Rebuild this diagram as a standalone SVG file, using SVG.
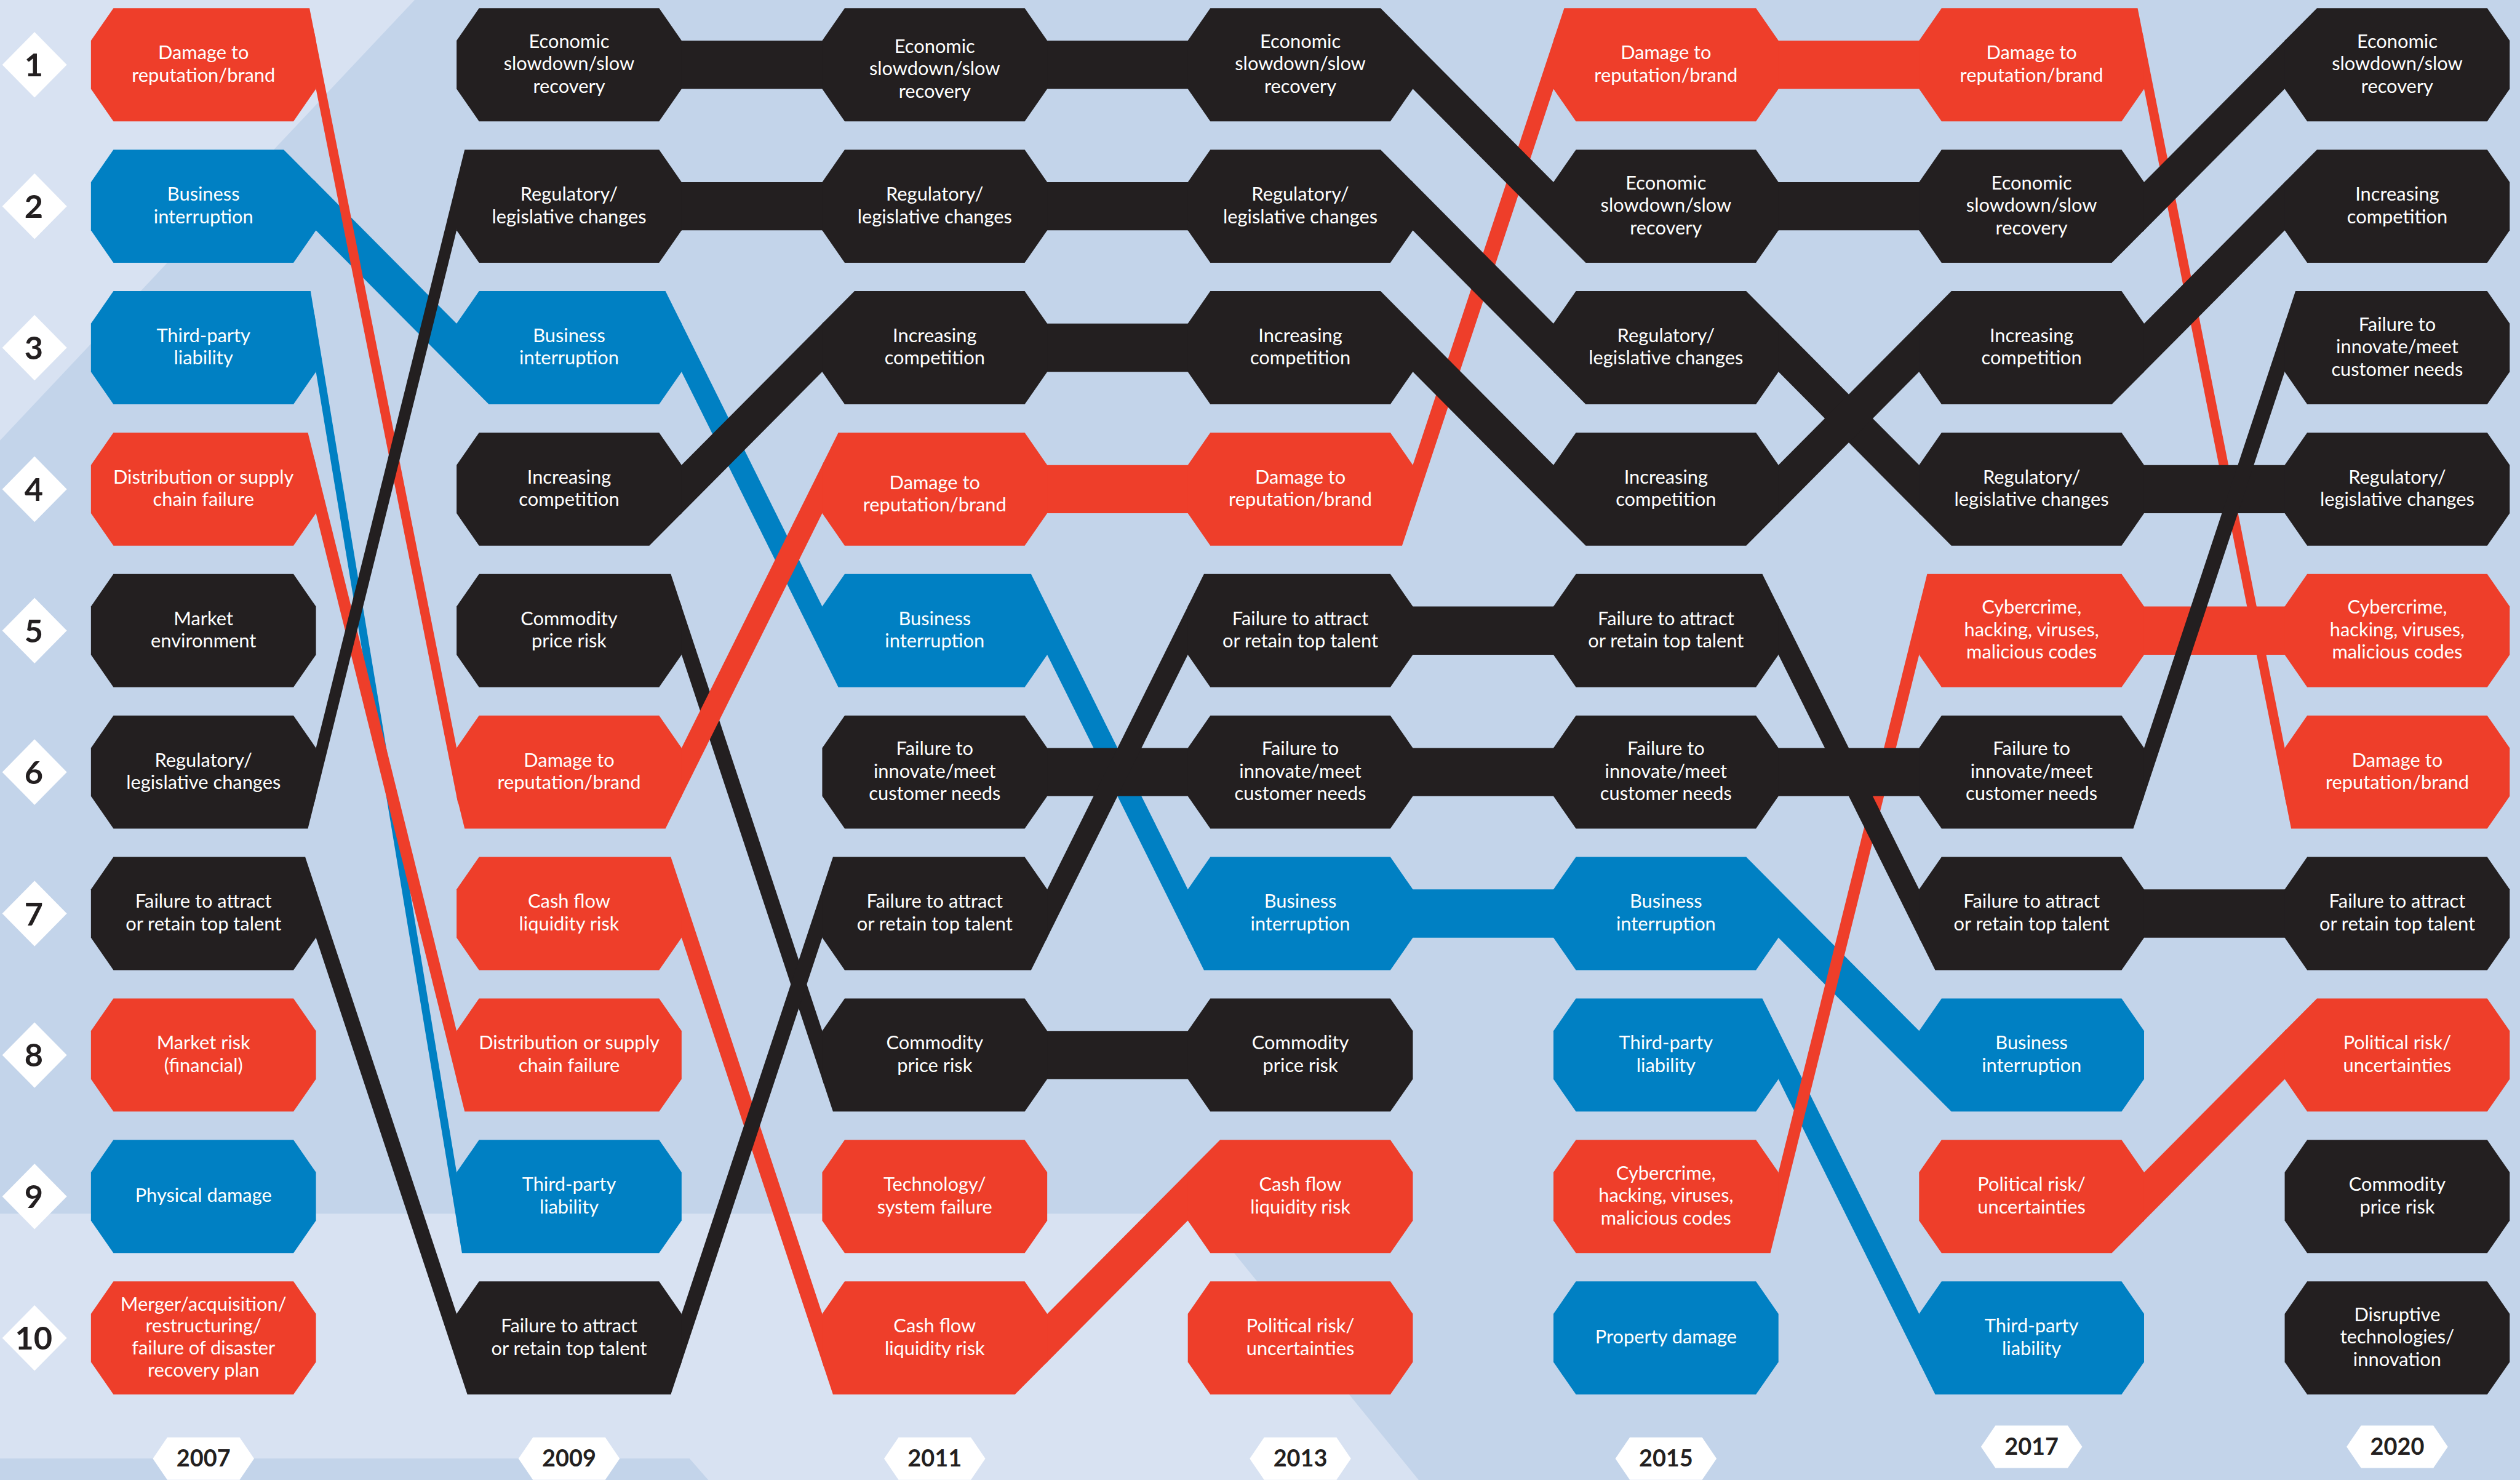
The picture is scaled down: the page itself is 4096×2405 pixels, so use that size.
<svg xmlns="http://www.w3.org/2000/svg" width="4096" height="2405" viewBox="0 0 4096 2405">
<style>
.R{fill:#EE3E2A}.B{fill:#0080C3}.K{fill:#231F20}
.bgd{fill:#C3D4EA}.bgl{fill:#D8E2F2}
.t{font-family:Lato,"Noto Sans","Liberation Sans",sans-serif;font-size:11.8px;fill:#FFFFFF;text-anchor:middle}
.dia{fill:#FFFFFF}
.num{font-family:Lato,"Noto Sans","Liberation Sans",sans-serif;font-size:20px;font-weight:700;fill:#231F20;text-anchor:middle}
.yr{font-family:Lato,"Noto Sans","Liberation Sans",sans-serif;font-size:14.5px;font-weight:700;fill:#231F20;text-anchor:middle}
</style>
<g transform="scale(2.612245)">
<g id="background">
<rect class="bgd" x="0" y="0" width="1568" height="921"/>
<polygon class="bgl" points="0,0 258,0 0,274"/>
<polygon class="bgl" points="0,755 748,755 883,921 441,921 429,907.3 0,907.3"/>
</g>
<g id="connectors">
<polygon class="B" points="195.6,112.29 285.1,202.31 285.1,232.31 195.6,142.29"/>
<polygon class="B" points="195.6,195.27 285.1,735.33 285.1,765.33 195.6,225.27"/>
<polygon class="R" points="195.6,20.27 285.1,470.33 285.1,500.33 195.6,50.27"/>
<polygon class="R" points="195.6,285.28 285.1,645.32 285.1,675.32 195.6,315.28"/>
<polygon class="K" points="195.6,469.32 285.1,109.28 285.1,139.28 195.6,499.32"/>
<polygon class="K" points="195.6,550.28 285.1,820.32 285.1,850.32 195.6,580.28"/>

<polygon class="B" points="423.1,199.29 512.6,379.31 512.6,409.31 423.1,229.29"/>
<polygon class="R" points="423.1,550.28 512.6,820.32 512.6,850.32 423.1,580.28"/>
<polygon class="K" points="423.1,25.3 512.6,25.3 512.6,55.3 423.1,55.3"/>
<polygon class="K" points="423.1,113.3 512.6,113.3 512.6,143.3 423.1,143.3"/>
<polygon class="K" points="423.1,290.31 512.6,200.29 512.6,230.29 423.1,320.31"/>
<polygon class="K" points="423.1,374.28 512.6,644.32 512.6,674.32 423.1,404.28"/>
<polygon class="K" points="423.1,820.32 512.6,550.28 512.6,580.28 423.1,850.32"/>
<polygon class="R" points="423.1,467.31 512.6,287.29 512.6,317.29 423.1,497.31"/>

<polygon class="B" points="650.6,375.29 740.1,555.31 740.1,585.31 650.6,405.29"/>
<polygon class="R" points="650.6,289.3 740.1,289.3 740.1,319.3 650.6,319.3"/>
<polygon class="R" points="650.6,818.31 740.1,728.29 740.1,758.29 650.6,848.31"/>
<polygon class="K" points="650.6,25.3 740.1,25.3 740.1,55.3 650.6,55.3"/>
<polygon class="K" points="650.6,113.3 740.1,113.3 740.1,143.3 650.6,143.3"/>
<polygon class="K" points="650.6,201.3 740.1,201.3 740.1,231.3 650.6,231.3"/>
<polygon class="K" points="650.6,465.3 740.1,465.3 740.1,495.3 650.6,495.3"/>
<polygon class="K" points="650.6,641.3 740.1,641.3 740.1,671.3 650.6,671.3"/>
<polygon class="K" points="650.6,555.31 740.1,375.29 740.1,405.29 650.6,585.31"/>

<polygon class="B" points="878.1,553.3 967.6,553.3 967.6,583.3 878.1,583.3"/>
<polygon class="R" points="878.1,292.32 967.6,22.28 967.6,52.28 878.1,322.32"/>
<polygon class="K" points="878.1,24.29 967.6,114.31 967.6,144.31 878.1,54.29"/>
<polygon class="K" points="878.1,112.29 967.6,202.31 967.6,232.31 878.1,142.29"/>
<polygon class="K" points="878.1,200.29 967.6,290.31 967.6,320.31 878.1,230.29"/>
<polygon class="K" points="878.1,377.3 967.6,377.3 967.6,407.3 878.1,407.3"/>
<polygon class="K" points="878.1,465.3 967.6,465.3 967.6,495.3 878.1,495.3"/>

<polygon class="B" points="1105.6,552.29 1195.1,642.31 1195.1,672.31 1105.6,582.29"/>
<polygon class="B" points="1105.6,639.29 1195.1,819.31 1195.1,849.31 1105.6,669.29"/>
<polygon class="R" points="1105.6,25.3 1195.1,25.3 1195.1,55.3 1105.6,55.3"/>
<polygon class="R" points="1105.6,733.32 1195.1,373.28 1195.1,403.28 1105.6,763.32"/>
<polygon class="K" points="1105.6,113.3 1195.1,113.3 1195.1,143.3 1105.6,143.3"/>
<polygon class="K" points="1105.6,200.29 1195.1,290.31 1195.1,320.31 1105.6,230.29"/>
<polygon class="K" points="1105.6,290.31 1195.1,200.29 1195.1,230.29 1105.6,320.31"/>
<polygon class="K" points="1105.6,375.29 1195.1,555.31 1195.1,585.31 1105.6,405.29"/>
<polygon class="K" points="1105.6,465.3 1195.1,465.3 1195.1,495.3 1105.6,495.3"/>

<polygon class="R" points="1333.1,20.27 1422.6,470.33 1422.6,500.33 1333.1,50.27"/>
<polygon class="R" points="1333.1,377.3 1422.6,377.3 1422.6,407.3 1333.1,407.3"/>
<polygon class="R" points="1333.1,730.31 1422.6,640.29 1422.6,670.29 1333.1,760.31"/>
<polygon class="K" points="1333.1,114.31 1422.6,24.29 1422.6,54.29 1333.1,144.31"/>
<polygon class="K" points="1333.1,202.31 1422.6,112.29 1422.6,142.29 1333.1,232.31"/>
<polygon class="K" points="1333.1,289.3 1422.6,289.3 1422.6,319.3 1333.1,319.3"/>
<polygon class="K" points="1333.1,468.32 1422.6,198.28 1422.6,228.28 1333.1,498.32"/>
<polygon class="K" points="1333.1,553.3 1422.6,553.3 1422.6,583.3 1333.1,583.3"/>
</g>

<!-- 2007 -->
<g id="n2007-1"><polygon class="R" points="70.6,5.1 192.58,5.1 196.6,25.3 196.6,55.3 182.6,75.5 70.6,75.5 56.6,55.3 56.6,25.3"/><text class="t"><tspan x="126.6" y="36.8">Damage to</tspan><tspan x="126.6" y="50.8">reputation/brand</tspan></text></g>
<g id="n2007-2"><polygon class="B" points="70.6,93.1 176.51,93.1 196.6,113.3 196.6,143.3 182.6,163.5 70.6,163.5 56.6,143.3 56.6,113.3"/><text class="t"><tspan x="126.6" y="124.8">Business</tspan><tspan x="126.6" y="138.8">interruption</tspan></text></g>
<g id="n2007-3"><polygon class="B" points="70.6,181.1 193.25,181.1 196.6,201.3 196.6,231.3 182.6,251.5 70.6,251.5 56.6,231.3 56.6,201.3"/><text class="t"><tspan x="126.6" y="212.8">Third-party</tspan><tspan x="126.6" y="226.8">liability</tspan></text></g>
<g id="n2007-4"><polygon class="R" points="70.6,269.1 191.58,269.1 196.6,289.3 196.6,319.3 182.6,339.5 70.6,339.5 56.6,319.3 56.6,289.3"/><text class="t"><tspan x="126.6" y="300.8">Distribution or supply</tspan><tspan x="126.6" y="314.8">chain failure</tspan></text></g>
<g id="n2007-5"><polygon class="K" points="70.6,357.1 182.6,357.1 196.6,377.3 196.6,407.3 182.6,427.5 70.6,427.5 56.6,407.3 56.6,377.3"/><text class="t"><tspan x="126.6" y="388.8">Market</tspan><tspan x="126.6" y="402.8">environment</tspan></text></g>
<g id="n2007-6"><polygon class="K" points="70.6,445.1 182.6,445.1 196.6,465.3 196.6,495.3 191.58,515.5 70.6,515.5 56.6,495.3 56.6,465.3"/><text class="t"><tspan x="126.6" y="476.8">Regulatory/</tspan><tspan x="126.6" y="490.8">legislative changes</tspan></text></g>
<g id="n2007-7"><polygon class="K" points="70.6,533.1 189.9,533.1 196.6,553.3 196.6,583.3 182.6,603.5 70.6,603.5 56.6,583.3 56.6,553.3"/><text class="t"><tspan x="126.6" y="564.8">Failure to attract</tspan><tspan x="126.6" y="578.8">or retain top talent</tspan></text></g>
<g id="n2007-8"><polygon class="R" points="70.6,621.1 182.6,621.1 196.6,641.3 196.6,671.3 182.6,691.5 70.6,691.5 56.6,671.3 56.6,641.3"/><text class="t"><tspan x="126.6" y="652.8">Market risk</tspan><tspan x="126.6" y="666.8">(financial)</tspan></text></g>
<g id="n2007-9"><polygon class="B" points="70.6,709.1 182.6,709.1 196.6,729.3 196.6,759.3 182.6,779.5 70.6,779.5 56.6,759.3 56.6,729.3"/><text class="t"><tspan x="126.6" y="747.8">Physical damage</tspan></text></g>
<g id="n2007-10"><polygon class="R" points="70.6,797.1 182.6,797.1 196.6,817.3 196.6,847.3 182.6,867.5 70.6,867.5 56.6,847.3 56.6,817.3"/><text class="t"><tspan x="126.6" y="815.25">Merger/acquisition/</tspan><tspan x="126.6" y="828.95">restructuring/</tspan><tspan x="126.6" y="842.65">failure of disaster</tspan><tspan x="126.6" y="856.35">recovery plan</tspan></text></g>

<!-- 2009 -->
<g id="n2009-1"><polygon class="K" points="298.1,5.1 410.1,5.1 424.1,25.3 424.1,55.3 410.1,75.5 298.1,75.5 284.1,55.3 284.1,25.3"/><text class="t"><tspan x="354.1" y="29.8">Economic</tspan><tspan x="354.1" y="43.8">slowdown/slow</tspan><tspan x="354.1" y="57.8">recovery</tspan></text></g>
<g id="n2009-2"><polygon class="K" points="289.12,93.1 410.1,93.1 424.1,113.3 424.1,143.3 410.1,163.5 298.1,163.5 284.1,143.3 284.1,113.3"/><text class="t"><tspan x="354.1" y="124.8">Regulatory/</tspan><tspan x="354.1" y="138.8">legislative changes</tspan></text></g>
<g id="n2009-3"><polygon class="B" points="298.1,181.1 414.06,181.1 424.1,201.3 424.1,231.3 410.1,251.5 304.19,251.5 284.1,231.3 284.1,201.3"/><text class="t"><tspan x="354.1" y="212.8">Business</tspan><tspan x="354.1" y="226.8">interruption</tspan></text></g>
<g id="n2009-4"><polygon class="K" points="298.1,269.1 410.1,269.1 424.1,289.3 424.1,319.3 404.01,339.5 298.1,339.5 284.1,319.3 284.1,289.3"/><text class="t"><tspan x="354.1" y="300.8">Increasing</tspan><tspan x="354.1" y="314.8">competition</tspan></text></g>
<g id="n2009-5"><polygon class="K" points="298.1,357.1 417.4,357.1 424.1,377.3 424.1,407.3 410.1,427.5 298.1,427.5 284.1,407.3 284.1,377.3"/><text class="t"><tspan x="354.1" y="388.8">Commodity</tspan><tspan x="354.1" y="402.8">price risk</tspan></text></g>
<g id="n2009-6"><polygon class="R" points="298.1,445.1 410.1,445.1 424.1,465.3 424.1,495.3 414.06,515.5 289.12,515.5 284.1,495.3 284.1,465.3"/><text class="t"><tspan x="354.1" y="476.8">Damage to</tspan><tspan x="354.1" y="490.8">reputation/brand</tspan></text></g>
<g id="n2009-7"><polygon class="R" points="298.1,533.1 417.4,533.1 424.1,553.3 424.1,583.3 410.1,603.5 298.1,603.5 284.1,583.3 284.1,553.3"/><text class="t"><tspan x="354.1" y="564.8">Cash flow</tspan><tspan x="354.1" y="578.8">liquidity risk</tspan></text></g>
<g id="n2009-8"><polygon class="R" points="298.1,621.1 410.1,621.1 424.1,641.3 424.1,671.3 410.1,691.5 289.12,691.5 284.1,671.3 284.1,641.3"/><text class="t"><tspan x="354.1" y="652.8">Distribution or supply</tspan><tspan x="354.1" y="666.8">chain failure</tspan></text></g>
<g id="n2009-9"><polygon class="B" points="298.1,709.1 410.1,709.1 424.1,729.3 424.1,759.3 410.1,779.5 287.45,779.5 284.1,759.3 284.1,729.3"/><text class="t"><tspan x="354.1" y="740.8">Third-party</tspan><tspan x="354.1" y="754.8">liability</tspan></text></g>
<g id="n2009-10"><polygon class="K" points="298.1,797.1 410.1,797.1 424.1,817.3 424.1,847.3 417.4,867.5 290.8,867.5 284.1,847.3 284.1,817.3"/><text class="t"><tspan x="354.1" y="828.8">Failure to attract</tspan><tspan x="354.1" y="842.8">or retain top talent</tspan></text></g>

<!-- 2011 -->
<g id="n2011-1"><polygon class="K" points="525.6,5.1 637.6,5.1 651.6,25.3 651.6,55.3 637.6,75.5 525.6,75.5 511.6,55.3 511.6,25.3"/><text class="t"><tspan x="581.6" y="32.8">Economic</tspan><tspan x="581.6" y="46.8">slowdown/slow</tspan><tspan x="581.6" y="60.8">recovery</tspan></text></g>
<g id="n2011-2"><polygon class="K" points="525.6,93.1 637.6,93.1 651.6,113.3 651.6,143.3 637.6,163.5 525.6,163.5 511.6,143.3 511.6,113.3"/><text class="t"><tspan x="581.6" y="124.8">Regulatory/</tspan><tspan x="581.6" y="138.8">legislative changes</tspan></text></g>
<g id="n2011-3"><polygon class="K" points="531.69,181.1 637.6,181.1 651.6,201.3 651.6,231.3 637.6,251.5 525.6,251.5 511.6,231.3 511.6,201.3"/><text class="t"><tspan x="581.6" y="212.8">Increasing</tspan><tspan x="581.6" y="226.8">competition</tspan></text></g>
<g id="n2011-4"><polygon class="R" points="521.64,269.1 637.6,269.1 651.6,289.3 651.6,319.3 637.6,339.5 525.6,339.5 511.6,319.3 511.6,289.3"/><text class="t"><tspan x="581.6" y="304.3">Damage to</tspan><tspan x="581.6" y="318.3">reputation/brand</tspan></text></g>
<g id="n2011-5"><polygon class="B" points="525.6,357.1 641.56,357.1 651.6,377.3 651.6,407.3 637.6,427.5 521.64,427.5 511.6,407.3 511.6,377.3"/><text class="t"><tspan x="581.6" y="388.8">Business</tspan><tspan x="581.6" y="402.8">interruption</tspan></text></g>
<g id="n2011-6"><polygon class="K" points="525.6,445.1 637.6,445.1 651.6,465.3 651.6,495.3 637.6,515.5 525.6,515.5 511.6,495.3 511.6,465.3"/><text class="t"><tspan x="581.6" y="469.8">Failure to</tspan><tspan x="581.6" y="483.8">innovate/meet</tspan><tspan x="581.6" y="497.8">customer needs</tspan></text></g>
<g id="n2011-7"><polygon class="K" points="518.3,533.1 637.6,533.1 651.6,553.3 651.6,583.3 641.56,603.5 525.6,603.5 511.6,583.3 511.6,553.3"/><text class="t"><tspan x="581.6" y="564.8">Failure to attract</tspan><tspan x="581.6" y="578.8">or retain top talent</tspan></text></g>
<g id="n2011-8"><polygon class="K" points="525.6,621.1 637.6,621.1 651.6,641.3 651.6,671.3 637.6,691.5 518.3,691.5 511.6,671.3 511.6,641.3"/><text class="t"><tspan x="581.6" y="652.8">Commodity</tspan><tspan x="581.6" y="666.8">price risk</tspan></text></g>
<g id="n2011-9"><polygon class="R" points="525.6,709.1 637.6,709.1 651.6,729.3 651.6,759.3 637.6,779.5 525.6,779.5 511.6,759.3 511.6,729.3"/><text class="t"><tspan x="581.6" y="740.8">Technology/</tspan><tspan x="581.6" y="754.8">system failure</tspan></text></g>
<g id="n2011-10"><polygon class="R" points="525.6,797.1 637.6,797.1 651.6,817.3 651.6,847.3 631.51,867.5 518.3,867.5 511.6,847.3 511.6,817.3"/><text class="t"><tspan x="581.6" y="828.8">Cash flow</tspan><tspan x="581.6" y="842.8">liquidity risk</tspan></text></g>

<!-- 2013 -->
<g id="n2013-1"><polygon class="K" points="753.1,5.1 859.01,5.1 879.1,25.3 879.1,55.3 865.1,75.5 753.1,75.5 739.1,55.3 739.1,25.3"/><text class="t"><tspan x="809.1" y="29.8">Economic</tspan><tspan x="809.1" y="43.8">slowdown/slow</tspan><tspan x="809.1" y="57.8">recovery</tspan></text></g>
<g id="n2013-2"><polygon class="K" points="753.1,93.1 859.01,93.1 879.1,113.3 879.1,143.3 865.1,163.5 753.1,163.5 739.1,143.3 739.1,113.3"/><text class="t"><tspan x="809.1" y="124.8">Regulatory/</tspan><tspan x="809.1" y="138.8">legislative changes</tspan></text></g>
<g id="n2013-3"><polygon class="K" points="753.1,181.1 859.01,181.1 879.1,201.3 879.1,231.3 865.1,251.5 753.1,251.5 739.1,231.3 739.1,201.3"/><text class="t"><tspan x="809.1" y="212.8">Increasing</tspan><tspan x="809.1" y="226.8">competition</tspan></text></g>
<g id="n2013-4"><polygon class="R" points="753.1,269.1 865.1,269.1 879.1,289.3 879.1,319.3 872.4,339.5 753.1,339.5 739.1,319.3 739.1,289.3"/><text class="t"><tspan x="809.1" y="300.8">Damage to</tspan><tspan x="809.1" y="314.8">reputation/brand</tspan></text></g>
<g id="n2013-5"><polygon class="K" points="749.14,357.1 865.1,357.1 879.1,377.3 879.1,407.3 865.1,427.5 753.1,427.5 739.1,407.3 739.1,377.3"/><text class="t"><tspan x="809.1" y="388.8">Failure to attract</tspan><tspan x="809.1" y="402.8">or retain top talent</tspan></text></g>
<g id="n2013-6"><polygon class="K" points="753.1,445.1 865.1,445.1 879.1,465.3 879.1,495.3 865.1,515.5 753.1,515.5 739.1,495.3 739.1,465.3"/><text class="t"><tspan x="809.1" y="469.8">Failure to</tspan><tspan x="809.1" y="483.8">innovate/meet</tspan><tspan x="809.1" y="497.8">customer needs</tspan></text></g>
<g id="n2013-7"><polygon class="B" points="753.1,533.1 865.1,533.1 879.1,553.3 879.1,583.3 865.1,603.5 749.14,603.5 739.1,583.3 739.1,553.3"/><text class="t"><tspan x="809.1" y="564.8">Business</tspan><tspan x="809.1" y="578.8">interruption</tspan></text></g>
<g id="n2013-8"><polygon class="K" points="753.1,621.1 865.1,621.1 879.1,641.3 879.1,671.3 865.1,691.5 753.1,691.5 739.1,671.3 739.1,641.3"/><text class="t"><tspan x="809.1" y="652.8">Commodity</tspan><tspan x="809.1" y="666.8">price risk</tspan></text></g>
<g id="n2013-9"><polygon class="R" points="759.19,709.1 865.1,709.1 879.1,729.3 879.1,759.3 865.1,779.5 753.1,779.5 739.1,759.3 739.1,729.3"/><text class="t"><tspan x="809.1" y="740.8">Cash flow</tspan><tspan x="809.1" y="754.8">liquidity risk</tspan></text></g>
<g id="n2013-10"><polygon class="R" points="753.1,797.1 865.1,797.1 879.1,817.3 879.1,847.3 865.1,867.5 753.1,867.5 739.1,847.3 739.1,817.3"/><text class="t"><tspan x="809.1" y="828.8">Political risk/</tspan><tspan x="809.1" y="842.8">uncertainties</tspan></text></g>

<!-- 2015 -->
<g id="n2015-1"><polygon class="R" points="973.3,5.1 1092.6,5.1 1106.6,25.3 1106.6,55.3 1092.6,75.5 980.6,75.5 966.6,55.3 966.6,25.3"/><text class="t"><tspan x="1036.6" y="36.8">Damage to</tspan><tspan x="1036.6" y="50.8">reputation/brand</tspan></text></g>
<g id="n2015-2"><polygon class="K" points="980.6,93.1 1092.6,93.1 1106.6,113.3 1106.6,143.3 1092.6,163.5 986.69,163.5 966.6,143.3 966.6,113.3"/><text class="t"><tspan x="1036.6" y="117.8">Economic</tspan><tspan x="1036.6" y="131.8">slowdown/slow</tspan><tspan x="1036.6" y="145.8">recovery</tspan></text></g>
<g id="n2015-3"><polygon class="K" points="980.6,181.1 1086.51,181.1 1106.6,201.3 1106.6,231.3 1092.6,251.5 986.69,251.5 966.6,231.3 966.6,201.3"/><text class="t"><tspan x="1036.6" y="212.8">Regulatory/</tspan><tspan x="1036.6" y="226.8">legislative changes</tspan></text></g>
<g id="n2015-4"><polygon class="K" points="980.6,269.1 1092.6,269.1 1106.6,289.3 1106.6,319.3 1086.51,339.5 986.69,339.5 966.6,319.3 966.6,289.3"/><text class="t"><tspan x="1036.6" y="300.8">Increasing</tspan><tspan x="1036.6" y="314.8">competition</tspan></text></g>
<g id="n2015-5"><polygon class="K" points="980.6,357.1 1096.56,357.1 1106.6,377.3 1106.6,407.3 1092.6,427.5 980.6,427.5 966.6,407.3 966.6,377.3"/><text class="t"><tspan x="1036.6" y="388.8">Failure to attract</tspan><tspan x="1036.6" y="402.8">or retain top talent</tspan></text></g>
<g id="n2015-6"><polygon class="K" points="980.6,445.1 1092.6,445.1 1106.6,465.3 1106.6,495.3 1092.6,515.5 980.6,515.5 966.6,495.3 966.6,465.3"/><text class="t"><tspan x="1036.6" y="469.8">Failure to</tspan><tspan x="1036.6" y="483.8">innovate/meet</tspan><tspan x="1036.6" y="497.8">customer needs</tspan></text></g>
<g id="n2015-7"><polygon class="B" points="980.6,533.1 1086.51,533.1 1106.6,553.3 1106.6,583.3 1092.6,603.5 980.6,603.5 966.6,583.3 966.6,553.3"/><text class="t"><tspan x="1036.6" y="564.8">Business</tspan><tspan x="1036.6" y="578.8">interruption</tspan></text></g>
<g id="n2015-8"><polygon class="B" points="980.6,621.1 1096.56,621.1 1106.6,641.3 1106.6,671.3 1092.6,691.5 980.6,691.5 966.6,671.3 966.6,641.3"/><text class="t"><tspan x="1036.6" y="652.8">Third-party</tspan><tspan x="1036.6" y="666.8">liability</tspan></text></g>
<g id="n2015-9"><polygon class="R" points="980.6,709.1 1092.6,709.1 1106.6,729.3 1106.6,759.3 1101.58,779.5 980.6,779.5 966.6,759.3 966.6,729.3"/><text class="t"><tspan x="1036.6" y="733.8">Cybercrime,</tspan><tspan x="1036.6" y="747.8">hacking, viruses,</tspan><tspan x="1036.6" y="761.8">malicious codes</tspan></text></g>
<g id="n2015-10"><polygon class="B" points="980.6,797.1 1092.6,797.1 1106.6,817.3 1106.6,847.3 1092.6,867.5 980.6,867.5 966.6,847.3 966.6,817.3"/><text class="t"><tspan x="1036.6" y="835.8">Property damage</tspan></text></g>

<!-- 2017 -->
<g id="n2017-1"><polygon class="R" points="1208.1,5.1 1330.08,5.1 1334.1,25.3 1334.1,55.3 1320.1,75.5 1208.1,75.5 1194.1,55.3 1194.1,25.3"/><text class="t"><tspan x="1264.1" y="36.8">Damage to</tspan><tspan x="1264.1" y="50.8">reputation/brand</tspan></text></g>
<g id="n2017-2"><polygon class="K" points="1208.1,93.1 1320.1,93.1 1334.1,113.3 1334.1,143.3 1314.01,163.5 1208.1,163.5 1194.1,143.3 1194.1,113.3"/><text class="t"><tspan x="1264.1" y="117.8">Economic</tspan><tspan x="1264.1" y="131.8">slowdown/slow</tspan><tspan x="1264.1" y="145.8">recovery</tspan></text></g>
<g id="n2017-3"><polygon class="K" points="1214.19,181.1 1320.1,181.1 1334.1,201.3 1334.1,231.3 1314.01,251.5 1208.1,251.5 1194.1,231.3 1194.1,201.3"/><text class="t"><tspan x="1264.1" y="212.8">Increasing</tspan><tspan x="1264.1" y="226.8">competition</tspan></text></g>
<g id="n2017-4"><polygon class="K" points="1208.1,269.1 1320.1,269.1 1334.1,289.3 1334.1,319.3 1320.1,339.5 1214.19,339.5 1194.1,319.3 1194.1,289.3"/><text class="t"><tspan x="1264.1" y="300.8">Regulatory/</tspan><tspan x="1264.1" y="314.8">legislative changes</tspan></text></g>
<g id="n2017-5"><polygon class="R" points="1199.12,357.1 1320.1,357.1 1334.1,377.3 1334.1,407.3 1320.1,427.5 1208.1,427.5 1194.1,407.3 1194.1,377.3"/><text class="t"><tspan x="1264.1" y="381.8">Cybercrime,</tspan><tspan x="1264.1" y="395.8">hacking, viruses,</tspan><tspan x="1264.1" y="409.8">malicious codes</tspan></text></g>
<g id="n2017-6"><polygon class="K" points="1208.1,445.1 1320.1,445.1 1334.1,465.3 1334.1,495.3 1327.4,515.5 1208.1,515.5 1194.1,495.3 1194.1,465.3"/><text class="t"><tspan x="1264.1" y="469.8">Failure to</tspan><tspan x="1264.1" y="483.8">innovate/meet</tspan><tspan x="1264.1" y="497.8">customer needs</tspan></text></g>
<g id="n2017-7"><polygon class="K" points="1208.1,533.1 1320.1,533.1 1334.1,553.3 1334.1,583.3 1320.1,603.5 1204.14,603.5 1194.1,583.3 1194.1,553.3"/><text class="t"><tspan x="1264.1" y="564.8">Failure to attract</tspan><tspan x="1264.1" y="578.8">or retain top talent</tspan></text></g>
<g id="n2017-8"><polygon class="B" points="1208.1,621.1 1320.1,621.1 1334.1,641.3 1334.1,671.3 1320.1,691.5 1214.19,691.5 1194.1,671.3 1194.1,641.3"/><text class="t"><tspan x="1264.1" y="652.8">Business</tspan><tspan x="1264.1" y="666.8">interruption</tspan></text></g>
<g id="n2017-9"><polygon class="R" points="1208.1,709.1 1320.1,709.1 1334.1,729.3 1334.1,759.3 1314.01,779.5 1208.1,779.5 1194.1,759.3 1194.1,729.3"/><text class="t"><tspan x="1264.1" y="740.8">Political risk/</tspan><tspan x="1264.1" y="754.8">uncertainties</tspan></text></g>
<g id="n2017-10"><polygon class="B" points="1208.1,797.1 1320.1,797.1 1334.1,817.3 1334.1,847.3 1320.1,867.5 1204.14,867.5 1194.1,847.3 1194.1,817.3"/><text class="t"><tspan x="1264.1" y="828.8">Third-party</tspan><tspan x="1264.1" y="842.8">liability</tspan></text></g>

<!-- 2020 -->
<g id="n2020-1"><polygon class="K" points="1441.69,5.1 1547.6,5.1 1561.6,25.3 1561.6,55.3 1547.6,75.5 1435.6,75.5 1421.6,55.3 1421.6,25.3"/><text class="t"><tspan x="1491.6" y="29.8">Economic</tspan><tspan x="1491.6" y="43.8">slowdown/slow</tspan><tspan x="1491.6" y="57.8">recovery</tspan></text></g>
<g id="n2020-2"><polygon class="K" points="1441.69,93.1 1547.6,93.1 1561.6,113.3 1561.6,143.3 1547.6,163.5 1435.6,163.5 1421.6,143.3 1421.6,113.3"/><text class="t"><tspan x="1491.6" y="124.8">Increasing</tspan><tspan x="1491.6" y="138.8">competition</tspan></text></g>
<g id="n2020-3"><polygon class="K" points="1428.3,181.1 1547.6,181.1 1561.6,201.3 1561.6,231.3 1547.6,251.5 1435.6,251.5 1421.6,231.3 1421.6,201.3"/><text class="t"><tspan x="1491.6" y="205.8">Failure to</tspan><tspan x="1491.6" y="219.8">innovate/meet</tspan><tspan x="1491.6" y="233.8">customer needs</tspan></text></g>
<g id="n2020-4"><polygon class="K" points="1435.6,269.1 1547.6,269.1 1561.6,289.3 1561.6,319.3 1547.6,339.5 1435.6,339.5 1421.6,319.3 1421.6,289.3"/><text class="t"><tspan x="1491.6" y="300.8">Regulatory/</tspan><tspan x="1491.6" y="314.8">legislative changes</tspan></text></g>
<g id="n2020-5"><polygon class="R" points="1435.6,357.1 1547.6,357.1 1561.6,377.3 1561.6,407.3 1547.6,427.5 1435.6,427.5 1421.6,407.3 1421.6,377.3"/><text class="t"><tspan x="1491.6" y="381.8">Cybercrime,</tspan><tspan x="1491.6" y="395.8">hacking, viruses,</tspan><tspan x="1491.6" y="409.8">malicious codes</tspan></text></g>
<g id="n2020-6"><polygon class="R" points="1435.6,445.1 1547.6,445.1 1561.6,465.3 1561.6,495.3 1547.6,515.5 1425.62,515.5 1421.6,495.3 1421.6,465.3"/><text class="t"><tspan x="1491.6" y="476.8">Damage to</tspan><tspan x="1491.6" y="490.8">reputation/brand</tspan></text></g>
<g id="n2020-7"><polygon class="K" points="1435.6,533.1 1547.6,533.1 1561.6,553.3 1561.6,583.3 1547.6,603.5 1435.6,603.5 1421.6,583.3 1421.6,553.3"/><text class="t"><tspan x="1491.6" y="564.8">Failure to attract</tspan><tspan x="1491.6" y="578.8">or retain top talent</tspan></text></g>
<g id="n2020-8"><polygon class="R" points="1441.69,621.1 1547.6,621.1 1561.6,641.3 1561.6,671.3 1547.6,691.5 1435.6,691.5 1421.6,671.3 1421.6,641.3"/><text class="t"><tspan x="1491.6" y="652.8">Political risk/</tspan><tspan x="1491.6" y="666.8">uncertainties</tspan></text></g>
<g id="n2020-9"><polygon class="K" points="1435.6,709.1 1547.6,709.1 1561.6,729.3 1561.6,759.3 1547.6,779.5 1435.6,779.5 1421.6,759.3 1421.6,729.3"/><text class="t"><tspan x="1491.6" y="740.8">Commodity</tspan><tspan x="1491.6" y="754.8">price risk</tspan></text></g>
<g id="n2020-10"><polygon class="K" points="1435.6,797.1 1547.6,797.1 1561.6,817.3 1561.6,847.3 1547.6,867.5 1435.6,867.5 1421.6,847.3 1421.6,817.3"/><text class="t"><tspan x="1491.6" y="821.8">Disruptive</tspan><tspan x="1491.6" y="835.8">technologies/</tspan><tspan x="1491.6" y="849.8">innovation</tspan></text></g>

<g id="ranks">
<polygon class="dia" points="21.5,19.9 41.6,40.3 21.5,60.7 1.4,40.3"/><text class="num" x="21" y="47.6">1</text>
<polygon class="dia" points="21.5,107.9 41.6,128.3 21.5,148.7 1.4,128.3"/><text class="num" x="21" y="135.6">2</text>
<polygon class="dia" points="21.5,195.9 41.6,216.3 21.5,236.7 1.4,216.3"/><text class="num" x="21" y="223.6">3</text>
<polygon class="dia" points="21.5,283.9 41.6,304.3 21.5,324.7 1.4,304.3"/><text class="num" x="21" y="311.6">4</text>
<polygon class="dia" points="21.5,371.9 41.6,392.3 21.5,412.7 1.4,392.3"/><text class="num" x="21" y="399.6">5</text>
<polygon class="dia" points="21.5,459.9 41.6,480.3 21.5,500.7 1.4,480.3"/><text class="num" x="21" y="487.6">6</text>
<polygon class="dia" points="21.5,547.9 41.6,568.3 21.5,588.7 1.4,568.3"/><text class="num" x="21" y="575.6">7</text>
<polygon class="dia" points="21.5,635.9 41.6,656.3 21.5,676.7 1.4,656.3"/><text class="num" x="21" y="663.6">8</text>
<polygon class="dia" points="21.5,723.9 41.6,744.3 21.5,764.7 1.4,744.3"/><text class="num" x="21" y="751.6">9</text>
<polygon class="dia" points="21.5,811.9 41.6,832.3 21.5,852.7 1.4,832.3"/><text class="num" x="21" y="839.6">10</text>
</g>

<g id="years">
<polygon class="dia" points="95.1,907.4 104.1,894.2 149.1,894.2 158.1,907.4 149.1,920.6 104.1,920.6"/><text class="yr" x="126.6" y="912.4">2007</text>
<polygon class="dia" points="322.6,907.4 331.6,894.2 376.6,894.2 385.6,907.4 376.6,920.6 331.6,920.6"/><text class="yr" x="354.1" y="912.4">2009</text>
<polygon class="dia" points="550.1,907.4 559.1,894.2 604.1,894.2 613.1,907.4 604.1,920.6 559.1,920.6"/><text class="yr" x="581.6" y="912.4">2011</text>
<polygon class="dia" points="777.6,907.4 786.6,894.2 831.6,894.2 840.6,907.4 831.6,920.6 786.6,920.6"/><text class="yr" x="809.1" y="912.4">2013</text>
<polygon class="dia" points="1005.1,907.4 1014.1,894.2 1059.1,894.2 1068.1,907.4 1059.1,920.6 1014.1,920.6"/><text class="yr" x="1036.6" y="912.4">2015</text>
<polygon class="dia" points="1232.6,900 1241.6,886.8 1286.6,886.8 1295.6,900 1286.6,913.2 1241.6,913.2"/><text class="yr" x="1264.1" y="905">2017</text>
<polygon class="dia" points="1460.1,900 1469.1,886.8 1514.1,886.8 1523.1,900 1514.1,913.2 1469.1,913.2"/><text class="yr" x="1491.6" y="905">2020</text>
</g>
</g>
</svg>
